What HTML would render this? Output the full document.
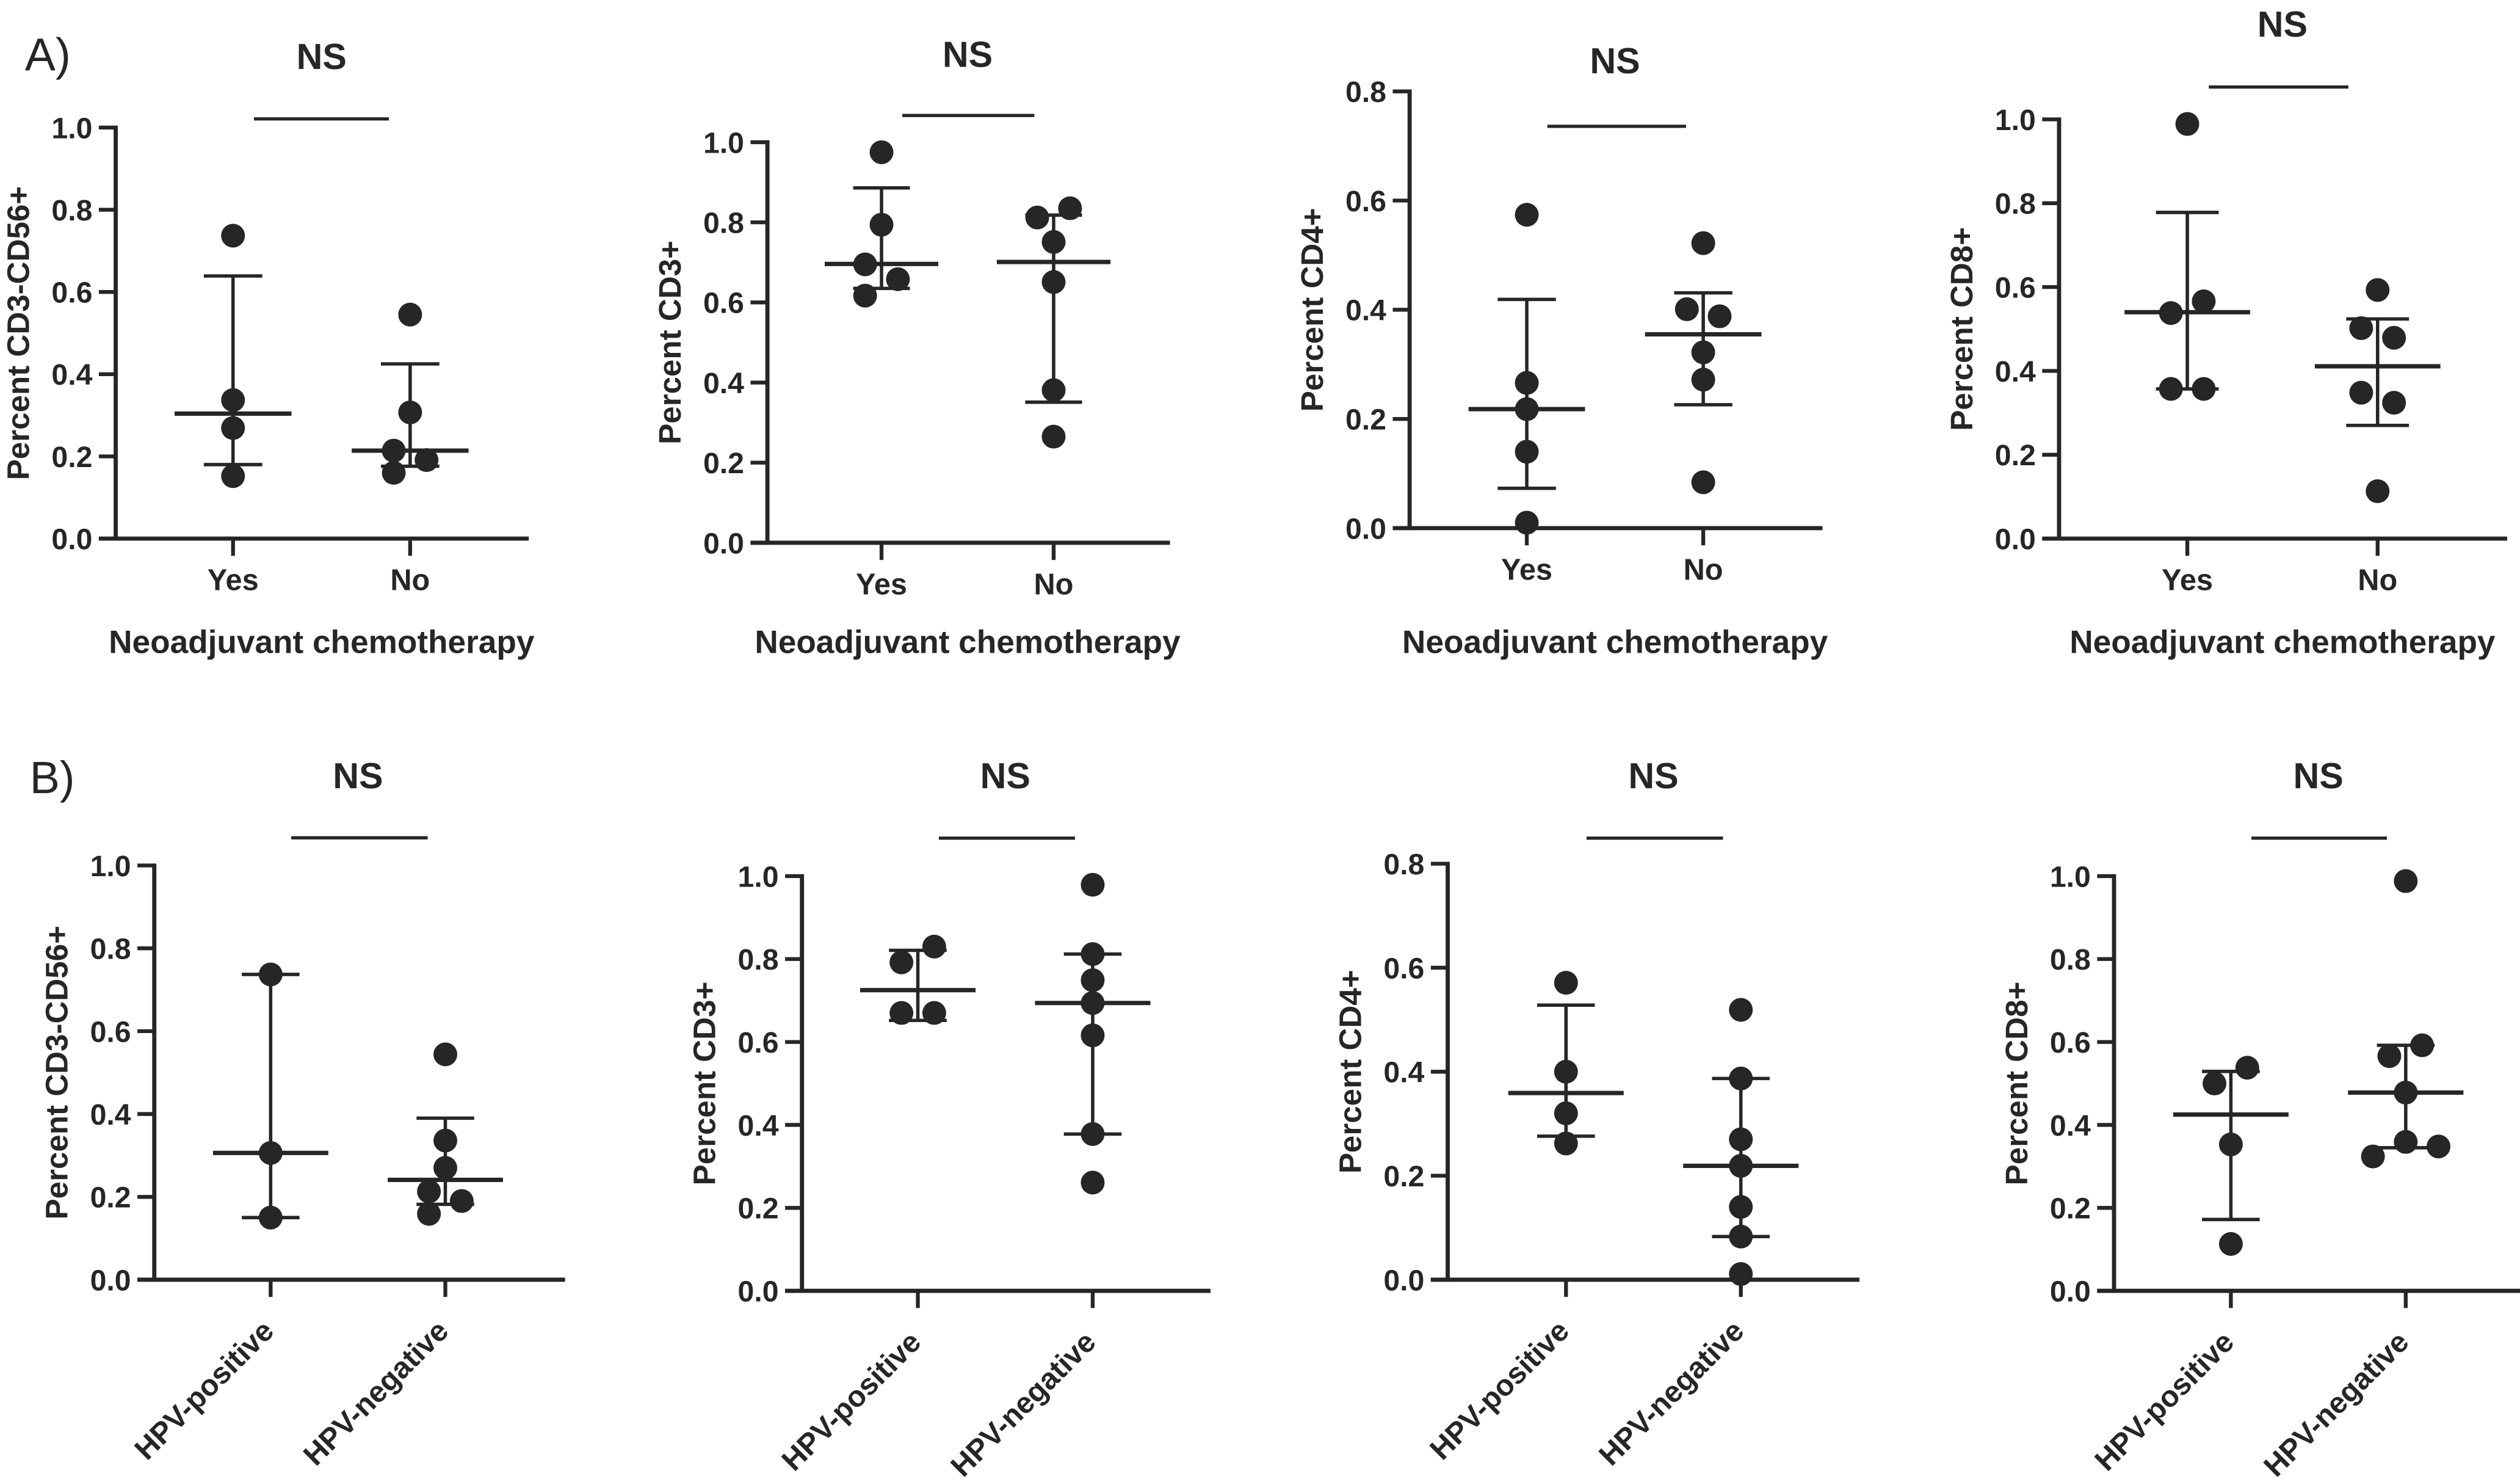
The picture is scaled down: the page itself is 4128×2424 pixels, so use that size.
<!DOCTYPE html>
<html><head><meta charset="utf-8"><title>Immune cell percentages by group</title>
<style>
html,body{margin:0;padding:0;background:#fff;}
svg{display:block;}
text{font-family:"Liberation Sans",Arial,sans-serif;fill:#262626;}
</style></head>
<body>
<svg id="fig" xmlns="http://www.w3.org/2000/svg" width="4128" height="2424" viewBox="0 0 1568 920" preserveAspectRatio="none" font-family="Liberation Sans, Arial, sans-serif">
  <rect x="0" y="0" width="1568" height="920" fill="#fff"/>
  <text x="15.5" y="43.7" font-size="28.5">A)</text>
  <text x="18.5" y="493" font-size="28">B)</text>
</svg>
<script>
// ---- data (medians, interquartile ranges, individual values) ----
const categoriesA = ["Yes", "No"];
const categoriesB = ["HPV-positive", "HPV-negative"];
const yTicks10 = [0, 0.2, 0.4, 0.6, 0.8, 1.0];
const yTicks08 = [0, 0.2, 0.4, 0.6, 0.8];
const tickLabels10 = ["0.0", "0.2", "0.4", "0.6", "0.8", "1.0"];
const tickLabels08 = ["0.0", "0.2", "0.4", "0.6", "0.8"];

// A1 CD3-CD56+
const a1Yes = [0.737, 0.337, 0.269, 0.152];
const a1No = [0.545, 0.307, 0.214, 0.191, 0.160];
const a1Median = [0.304, 0.214];
const a1Low = [0.180, 0.176];
const a1High = [0.639, 0.425];
const a1YesJit = [0, 0, 0, 0];
const a1NoJit = [0, 0, -1, 1, -1];
// A2 CD3+
const a2Yes = [0.975, 0.794, 0.695, 0.658, 0.617];
const a2No = [0.835, 0.812, 0.751, 0.651, 0.381, 0.265];
const a2Median = [0.696, 0.701];
const a2Low = [0.635, 0.351];
const a2High = [0.886, 0.818];
const a2YesJit = [0, 0, -1, 1, -1];
const a2NoJit = [1, -1, 0, 0, 0, 0];
// A3 CD4+
const a3Yes = [0.574, 0.266, 0.218, 0.140, 0.010];
const a3No = [0.522, 0.401, 0.388, 0.322, 0.272, 0.084];
const a3Median = [0.218, 0.355];
const a3Low = [0.073, 0.226];
const a3High = [0.419, 0.431];
const a3YesJit = [0, 0, 0, 0, 0];
const a3NoJit = [0, -1, 1, 0, 0, 0];
// A4 CD8+
const a4Yes = [0.989, 0.566, 0.538, 0.357, 0.357];
const a4No = [0.593, 0.502, 0.479, 0.348, 0.324, 0.113];
const a4Median = [0.540, 0.411];
const a4Low = [0.357, 0.270];
const a4High = [0.778, 0.524];
const a4YesJit = [0, 1, -1, -1, 1];
const a4NoJit = [0, -1, 1, -1, 1, 0];
// B1 CD3-CD56+
const b1Pos = [0.737, 0.306, 0.150];
const b1Neg = [0.544, 0.336, 0.270, 0.213, 0.190, 0.159];
const b1Median = [0.306, 0.241];
const b1Low = [0.150, 0.182];
const b1High = [0.737, 0.390];
const b1PosJit = [0, 0, 0];
const b1NegJit = [0, 0, 0, -1, 1, -1];
// B2 CD3+
const b2Pos = [0.830, 0.792, 0.670, 0.670];
const b2Neg = [0.979, 0.812, 0.749, 0.694, 0.616, 0.378, 0.261];
const b2Median = [0.725, 0.694];
const b2Low = [0.652, 0.378];
const b2High = [0.821, 0.812];
const b2PosJit = [1, -1, -1, 1];
const b2NegJit = [0, 0, 0, 0, 0, 0, 0];
// B3 CD4+
const b3Pos = [0.571, 0.400, 0.320, 0.262];
const b3Neg = [0.519, 0.387, 0.270, 0.219, 0.140, 0.083, 0.011];
const b3Median = [0.359, 0.219];
const b3Low = [0.276, 0.083];
const b3High = [0.528, 0.387];
const b3PosJit = [0, 0, 0, 0];
const b3NegJit = [0, 0, 0, 0, 0, 0, 0];
// B4 CD8+
const b4Pos = [0.538, 0.500, 0.353, 0.113];
const b4Neg = [0.988, 0.592, 0.566, 0.478, 0.359, 0.348, 0.324];
const b4Median = [0.425, 0.478];
const b4Low = [0.172, 0.345];
const b4High = [0.529, 0.592];
const b4PosJit = [1, -1, 0, 0];
const b4NegJit = [0, 1, -1, 0, 0, 2, -2];

// ---- layout (positions only) ----
const panels = [
  {id:"a1", title:"Percent CD3-CD56+", cats:categoriesA, groups:[a1Yes,a1No], jit:[a1YesJit,a1NoJit], med:a1Median, lo:a1Low, hi:a1High, ticks:yTicks10, labels:tickLabels10, yMax:1.0,
   ax:72, yTop:79.3, y0:334.8, cx:[145,255.2], xEnd:329, nsY:34.8, lineY:73.9, lineX:[158,242], rot:false},
  {id:"a2", title:"Percent CD3+", cats:categoriesA, groups:[a2Yes,a2No], jit:[a2YesJit,a2NoJit], med:a2Median, lo:a2Low, hi:a2High, ticks:yTicks10, labels:tickLabels10, yMax:1.0,
   ax:477.5, yTop:88.4, y0:337.4, cx:[548.5,655.6], xEnd:728, nsY:33.5, lineY:71.8, lineX:[561.4,643.6], rot:false},
  {id:"a3", title:"Percent CD4+", cats:categoriesA, groups:[a3Yes,a3No], jit:[a3YesJit,a3NoJit], med:a3Median, lo:a3Low, hi:a3High, ticks:yTicks08, labels:tickLabels08, yMax:0.8,
   ax:877.1, yTop:56.8, y0:328.3, cx:[950,1059.8], xEnd:1134, nsY:37.5, lineY:78.5, lineX:[962.8,1049.1], rot:false},
  {id:"a4", title:"Percent CD8+", cats:categoriesA, groups:[a4Yes,a4No], jit:[a4YesJit,a4NoJit], med:a4Median, lo:a4Low, hi:a4High, ticks:yTicks10, labels:tickLabels10, yMax:1.0,
   ax:1281.2, yTop:74.2, y0:334.8, cx:[1361,1479.4], xEnd:1560, nsY:14.7, lineY:54.1, lineX:[1374.4,1461.2], rot:false},
  {id:"b1", title:"Percent CD3-CD56+", cats:categoriesB, groups:[b1Pos,b1Neg], jit:[b1PosJit,b1NegJit], med:b1Median, lo:b1Low, hi:b1High, ticks:yTicks10, labels:tickLabels10, yMax:1.0,
   ax:96, yTop:538, y0:795.5, cx:[168.4,277.1], xEnd:351.6, nsY:482, lineY:520.8, lineX:[181.2,266.1], rot:true},
  {id:"b2", title:"Percent CD3+", cats:categoriesB, groups:[b2Pos,b2Neg], jit:[b2PosJit,b2NegJit], med:b2Median, lo:b2Low, hi:b2High, ticks:yTicks10, labels:tickLabels10, yMax:1.0,
   ax:499, yTop:544.6, y0:802.4, cx:[571.1,679.9], xEnd:753.2, nsY:482, lineY:521, lineX:[584.2,668.9], rot:true},
  {id:"b3", title:"Percent CD4+", cats:categoriesB, groups:[b3Pos,b3Neg], jit:[b3PosJit,b3NegJit], med:b3Median, lo:b3Low, hi:b3High, ticks:yTicks08, labels:tickLabels08, yMax:0.8,
   ax:900.8, yTop:536.9, y0:795.5, cx:[974.4,1083.2], xEnd:1157, nsY:482, lineY:521, lineX:[987.2,1072.1], rot:true},
  {id:"b4", title:"Percent CD8+", cats:categoriesB, groups:[b4Pos,b4Neg], jit:[b4PosJit,b4NegJit], med:b4Median, lo:b4Low, hi:b4High, ticks:yTicks10, labels:tickLabels10, yMax:1.0,
   ax:1315.4, yTop:544.6, y0:802.4, cx:[1388.1,1496.9], xEnd:1568, nsY:482, lineY:521, lineX:[1400.9,1485.2], rot:true}
];

const NS = "http://www.w3.org/2000/svg";
const svg = document.getElementById("fig");
const INK = "#262626";
function mk(tag, attrs, parent){
  const e = document.createElementNS(NS, tag);
  for (const k in attrs) e.setAttribute(k, attrs[k]);
  parent.appendChild(e);
  return e;
}
function line(x1,y1,x2,y2,w,parent){
  return mk("line",{x1:x1,y1:y1,x2:x2,y2:y2,stroke:INK,"stroke-width":w},parent);
}

panels.forEach(function(p){
  const g = mk("g",{},svg);
  
  
  const yScale = function(v){ return p.y0 - (v / p.yMax) * (p.y0 - p.yTop); };
  const xScale = function(i){ return p.cx[i]; };

  const ya = line(p.ax, p.yTop - 1.2, p.ax, p.y0 + 1.2, 2.6, g);
  
  
  p.ticks.forEach(function(t, i){
    const ty = yScale(t);
    const tk = line(p.ax - 10.5, ty, p.ax, ty, 2.4, g);
    
    
    const tl = mk("text",{x:p.ax - 14.5, y:ty + 6.6, "text-anchor":"end", "font-size":18.3, "font-weight":"bold"}, g);
    tl.textContent = p.labels[i];
    
    
  });
  const ymid = (p.yTop + p.y0) / 2;
  const yt = mk("text",{x:0, y:0, "text-anchor":"middle", "font-size":19.4, "font-weight":"bold",
    transform:"translate(" + (p.ax - 61 + 7) + "," + ymid + ") rotate(-90)"}, g);
  yt.textContent = p.title;
  
  

  const xa = line(p.ax - 10.5, p.y0, p.xEnd, p.y0, 2.6, g);
  
  
  p.cats.forEach(function(c, i){
    const x = xScale(i);
    const tk = line(x, p.y0, x, p.y0 + 10.7, 2.4, g);
    
    
    let lab;
    if (p.rot) {
      lab = mk("text",{x:0, y:0, "text-anchor":"end", "font-size":18.5, "font-weight":"bold",
        transform:"translate(" + (x + 3) + "," + (p.y0 + 33) + ") rotate(-45)"}, g);
    } else {
      lab = mk("text",{x:x, y:p.y0 + 32, "text-anchor":"middle", "font-size":18.5, "font-weight":"bold"}, g);
    }
    lab.textContent = c;
    
    
  });
  if (!p.rot) {
    const xt = mk("text",{x:(p.cx[0] + p.cx[1]) / 2, y:406, "text-anchor":"middle", "font-size":20.2, "font-weight":"bold"}, g);
    xt.textContent = "Neoadjuvant chemotherapy";
    
    
  }

  const sl = line(p.lineX[0], p.lineY, p.lineX[1], p.lineY, 2.0, g);
  
  
  const ns = mk("text",{x:(p.cx[0] + p.cx[1]) / 2, y:p.nsY + 8, "text-anchor":"middle", "font-size":22.5, "font-weight":"bold"}, g);
  ns.textContent = "NS";
  
  

  const spacing = p.cx[1] - p.cx[0];
  const medHalf = spacing * 0.33, capHalf = spacing * 0.165;
  p.groups.forEach(function(vals, gi){
    const x = xScale(gi);
    const eb = line(x, yScale(p.hi[gi]), x, yScale(p.lo[gi]), 2.1, g);
    
    
    const ct = line(x - capHalf, yScale(p.hi[gi]), x + capHalf, yScale(p.hi[gi]), 2.1, g);
    
    
    const cb = line(x - capHalf, yScale(p.lo[gi]), x + capHalf, yScale(p.lo[gi]), 2.1, g);
    
    
    const md = line(x - medHalf, yScale(p.med[gi]), x + medHalf, yScale(p.med[gi]), 2.7, g);
    
    
    vals.forEach(function(v, k){
      const dot = mk("circle",{cx:x + p.jit[gi][k] * 10.2, cy:yScale(v), r:7.4, fill:INK}, g);
      
      
    });
  });
});
</script>
</body></html>
